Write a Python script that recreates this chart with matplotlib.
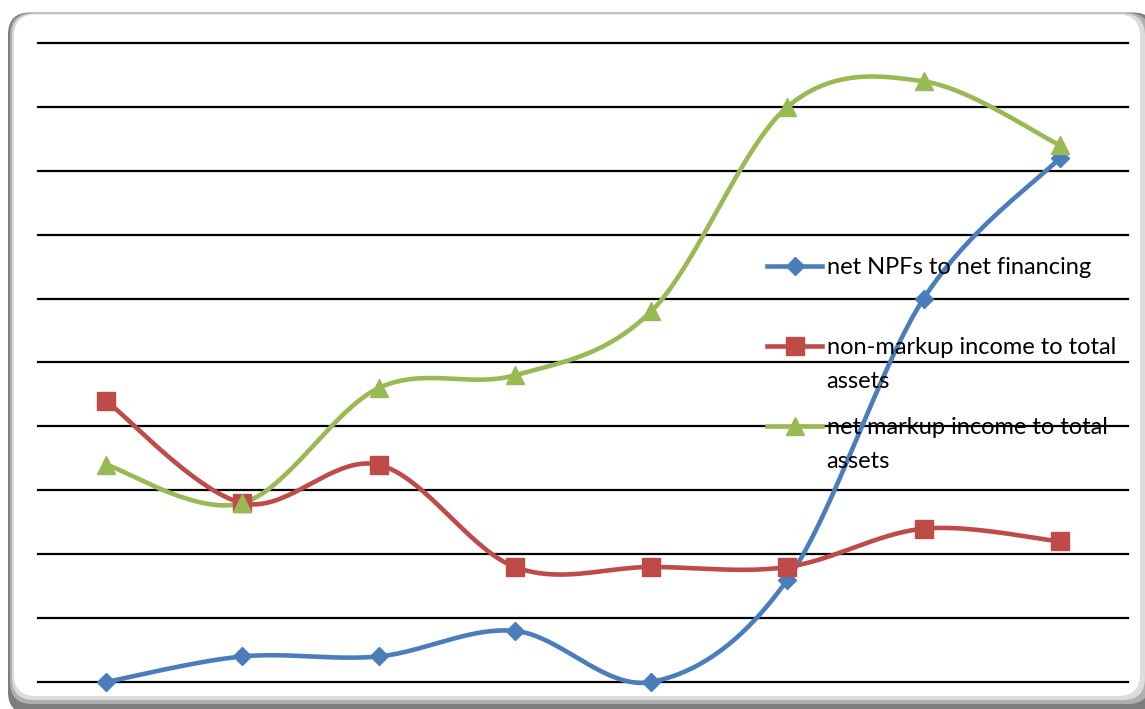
import matplotlib
matplotlib.use('Agg')
import matplotlib.pyplot as plt
from matplotlib.patches import FancyBboxPatch
from matplotlib.transforms import IdentityTransform
import numpy as np

# data: 8 periods, three ratios
periods = np.arange(8)
npf = [0.0, 0.4, 0.4, 0.8, 0.0, 1.6, 6.0, 8.2]
non_markup = [4.4, 2.8, 3.4, 1.8, 1.8, 1.8, 2.4, 2.2]
net_markup = [3.4, 2.8, 4.6, 4.8, 5.8, 9.0, 9.4, 8.4]

labels = ['net NPFs to net financing',
          'non-markup income to total',
          'net markup income to total']
second_lines = [None, 'assets', 'assets']

colors = ['#4A7EBB', '#BE4B48', '#98B954']
markers = ['D', 's', '^']
msizes = [9.2, 13.5, 13.5]


# bezier smoothing like a spreadsheet "smoothed line"
def smooth(x, y, n=40):
    pts = np.column_stack([x, y]).astype(float)
    out = []
    for i in range(len(pts) - 1):
        p0 = pts[i - 1] if i > 0 else pts[i]
        p1 = pts[i]
        p2 = pts[i + 1]
        p3 = pts[i + 2] if i + 2 < len(pts) else pts[i + 1]
        c1 = p1 + (p2 - p0) / 6.0
        c2 = p2 - (p3 - p1) / 6.0
        t = np.linspace(0, 1, n)[:, None]
        seg = ((1 - t) ** 3) * p1 + 3 * ((1 - t) ** 2) * t * c1 + 3 * (1 - t) * t ** 2 * c2 + t ** 3 * p2
        out.append(seg if i == 0 else seg[1:])
    seg = np.vstack(out)
    return seg[:, 0], seg[:, 1]


plt.rcParams['font.family'] = ['Lato', 'DejaVu Sans']

fig = plt.figure(figsize=(11.45, 7.09), dpi=100)
W, H = 1145, 709

# rounded frame (pixel units) with grey bevel / shadow
def rbox(x0, top, x1, bottom, color, z):
    p = FancyBboxPatch((x0, H - bottom), x1 - x0, bottom - top,
                       boxstyle='round,pad=0,rounding_size=22',
                       transform=IdentityTransform(), facecolor=color,
                       edgecolor='none', zorder=z)
    fig.patches.append(p)

rbox(8, 12.5, 1155, 714, '#7d7d7d', 0)
rbox(10, 13, 1150, 704, '#afafaf', 0.5)
rbox(12, 13.5, 1145, 700, '#dcdcdc', 0.7)
rbox(14, 14.5, 1140, 696, 'white', 1)

ax = fig.add_axes([38 / W, 27 / H, 1090 / W, 639 / H])
ax.set_zorder(2)
ax.patch.set_alpha(0)
ax.set_xlim(-0.5, 7.5)
ax.set_ylim(0, 10)
ax.set_yticks(np.arange(0, 11, 1))
ax.yaxis.grid(True, color='black', linewidth=1.6)
for gl in ax.get_ygridlines():
    gl.set_clip_on(False)
ax.set_axisbelow(True)
ax.tick_params(left=False, bottom=False, labelleft=False, labelbottom=False)
for s in ax.spines.values():
    s.set_visible(False)

handles = []
for vals, c, m, ms in zip([npf, non_markup, net_markup], colors, markers, msizes):
    xs, ys = smooth(periods, vals)
    ax.plot(xs, ys, color=c, linewidth=3.3, solid_capstyle='round',
            zorder=3, clip_on=False)
    ax.plot(periods, vals, linestyle='none', marker=m, markersize=ms,
            color=c, zorder=4, clip_on=False)
    h, = ax.plot([], [], color=c, linewidth=3.3, marker=m, markersize=ms)
    handles.append(h)

fs = 17
leg = ax.legend(handles, labels, loc='upper left',
                bbox_to_anchor=(729 / 1090, 1 - (257 - 43) / 639),
                frameon=False, fontsize=fs, handlelength=2.33,
                handletextpad=0.2, labelspacing=2.5, borderpad=0,
                borderaxespad=0)

# continuation lines of the wrapped legend labels
fig.canvas.draw()
for txt, extra in zip(leg.get_texts(), second_lines):
    if extra is None:
        continue
    bb = txt.get_window_extent()
    x0, y0 = fig.transFigure.inverted().transform((bb.x0, bb.y0))
    fig.text(x0, y0 - 34 / H, extra, fontsize=fs, ha='left', va='bottom',
             zorder=5)

fig.savefig('out.png', dpi=100)
